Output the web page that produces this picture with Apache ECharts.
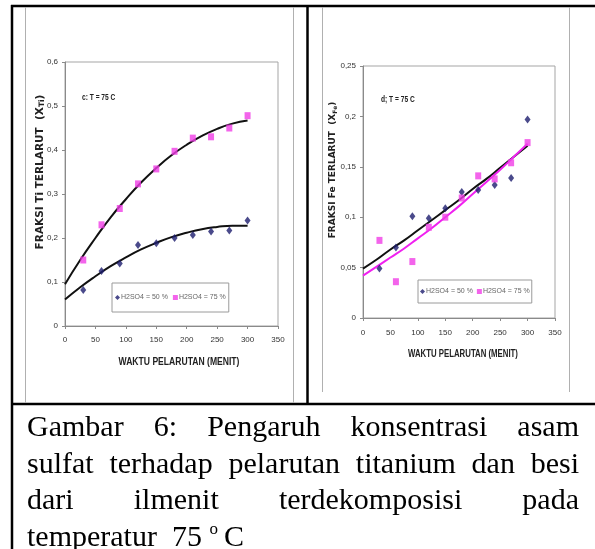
<!DOCTYPE html>
<html>
<head>
<meta charset="utf-8">
<script src="https://cdn.jsdelivr.net/npm/echarts@6/dist/echarts.min.js"></script>
<style>
  html, body { margin: 0; padding: 0; background: #fff; }
  #chart { position: absolute; left: 0; top: 0; width: 595px; height: 549px; }
  #caption { position: absolute; left: 27px; top: 408px; width: 552px;
    font-family: 'Liberation Serif', 'Times New Roman', serif; font-size: 30px; line-height: 36.5px; color: #000; }
  #caption div { text-align: justify; text-align-last: justify; white-space: nowrap; }
  #caption div.last { text-align: left; text-align-last: left; }
</style>
</head>
<body>
<div id="chart"></div>
<div id="caption">
  <div>Gambar 6: Pengaruh konsentrasi asam</div>
  <div>sulfat terhadap pelarutan titanium dan besi</div>
  <div>dari ilmenit terdekomposisi pada</div>
  <div class="last">temperatur&nbsp; 75 <sup style="font-size:17px;vertical-align:12px;line-height:0">o</sup>&#8201;C</div>
</div>
<script>
// ---- Data ----
const times = [30, 60, 90, 120, 150, 180, 210, 240, 270, 300];
const tiAcid50 = [0.082, 0.125, 0.142, 0.184, 0.188, 0.200, 0.207, 0.215, 0.217, 0.240];
const tiAcid75 = [0.150, 0.230, 0.267, 0.323, 0.357, 0.397, 0.427, 0.430, 0.450, 0.478];
const feAcid50 = [0.049, 0.070, 0.101, 0.099, 0.109, 0.125, 0.127, 0.132, 0.139, 0.197];
const feAcid75 = [0.077, 0.036, 0.056, 0.090, 0.100, 0.119, 0.141, 0.138, 0.154, 0.174];
// trendline curves
const trendX = [0, 25, 50, 75, 100, 125, 150, 175, 200, 225, 250, 275, 300];
const tiTrend50 = [0.060, 0.088, 0.113, 0.136, 0.156, 0.174, 0.189, 0.202, 0.212, 0.220, 0.225, 0.228, 0.228];
const tiTrend75 = [0.095, 0.150, 0.200, 0.247, 0.288, 0.326, 0.359, 0.388, 0.412, 0.432, 0.448, 0.460, 0.467];
const feTrend50 = [0.049, 0.058, 0.068, 0.077, 0.087, 0.097, 0.107, 0.117, 0.128, 0.138, 0.149, 0.160, 0.171];
const feTrend75 = [0.042, 0.051, 0.060, 0.069, 0.079, 0.089, 0.100, 0.111, 0.123, 0.135, 0.147, 0.160, 0.173];
const xTicks = { min: 0, max: 350, interval: 50 };
const tiTicks = { min: 0, max: 0.6, interval: 0.1 };
const feTicks = { min: 0, max: 0.25, interval: 0.05 };
const name50 = 'H2SO4 = 50 %';
const name75 = 'H2SO4 = 75 %';
const xTitle = 'WAKTU PELARUTAN (MENIT)';
const tiTitle = 'FRAKSI Ti TERLARUT  (X';
const feTitle = 'FRAKSI Fe TERLARUT  (X';

const pair = (xs, ys) => xs.map((x, i) => [x, ys[i]]);
const comma = v => { const r = Math.round(v * 100) / 100; return String(r).replace('.', ','); };

const NAVY = '#1d1d6e';
const PINK = '#f03de6';
const MAG = '#f020f0';
const sans = "'Liberation Sans', Arial, sans-serif";
const wide = "'DejaVu Sans', 'Liberation Sans', sans-serif";

function xAxisCfg(gridIndex, margin) {
  return {
    gridIndex, type: 'value', min: xTicks.min, max: xTicks.max, interval: xTicks.interval,
    axisLine: { show: true, lineStyle: { color: '#8a8a8a', width: 1 } },
    axisTick: { show: true, inside: false, length: 3, lineStyle: { color: '#8a8a8a' } },
    axisLabel: { fontFamily: sans, fontSize: 8, color: '#333', margin },
    splitLine: { show: false }
  };
}
function yAxisCfg(gridIndex, t) {
  return {
    gridIndex, type: 'value', min: t.min, max: t.max, interval: t.interval,
    axisLine: { show: true, lineStyle: { color: '#8a8a8a', width: 1 } },
    axisTick: { show: true, inside: false, length: 3, lineStyle: { color: '#8a8a8a' } },
    axisLabel: { fontFamily: sans, fontSize: 8, color: '#333', margin: 7, formatter: comma },
    splitLine: { show: false }
  };
}
function legendCfg(left, top, pad, gap) {
  return {
    left, top, orient: 'horizontal', padding: pad, itemGap: gap,
    itemWidth: 5, itemHeight: 5, borderColor: '#9a9a9a', borderWidth: 1,
    data: [{ name: name50, icon: 'diamond' }, { name: name75, icon: 'rect' }],
    textStyle: { fontFamily: sans, fontSize: 7, color: '#666', padding: [0, 0, 0, -4] },
    selectedMode: false
  };
}
function line(x1, y1, x2, y2, color, w) {
  return { type: 'line', shape: { x1, y1, x2, y2 }, style: { stroke: color, lineWidth: w }, silent: true };
}
function vtitle(x, y, main, sub, size) {
  return {
    type: 'text', x, y, rotation: Math.PI / 2,
    style: {
      text: '{m|' + main + '}{s|' + sub + '}{m|)}',
      rich: {
        m: { fontFamily: wide, fontWeight: 'bold', fontSize: size, fill: '#222' },
        s: { fontFamily: wide, fontWeight: 'bold', fontSize: size - 3, fill: '#222', verticalAlign: 'bottom', padding: [5, 0, 0, 0] }
      },
      align: 'center', verticalAlign: 'middle'
    }
  };
}
function ntext(x, y, text, size, sx, align) {
  return {
    type: 'text', x, y, scaleX: sx, scaleY: 1,
    style: { text, fontFamily: sans, fontWeight: 'bold', fontSize: size, fill: '#222', align: align || 'center', verticalAlign: 'middle' }
  };
}

const chart = echarts.init(document.getElementById('chart'), null, { renderer: 'canvas' });
chart.setOption({
  animation: false,
  backgroundColor: '#fff',
  grid: [
    { left: 65, top: 62, width: 213, height: 264, show: true, borderColor: '#a5a5a5', borderWidth: 1, backgroundColor: '#fff' },
    { left: 363, top: 66, width: 192, height: 252, show: true, borderColor: '#a5a5a5', borderWidth: 1, backgroundColor: '#fff' }
  ],
  xAxis: [xAxisCfg(0, 10), xAxisCfg(1, 11)],
  yAxis: [yAxisCfg(0, tiTicks), yAxisCfg(1, feTicks)],
  legend: [legendCfg(112, 283, [11, 3], 5), legendCfg(418, 280, [8, 2], 4)],
  series: [
    { name: 'trend Ti 50', type: 'line', xAxisIndex: 0, yAxisIndex: 0, data: pair(trendX, tiTrend50), smooth: true, symbol: 'none', lineStyle: { color: '#111', width: 2 }, z: 2 },
    { name: 'trend Ti 75', type: 'line', xAxisIndex: 0, yAxisIndex: 0, data: pair(trendX, tiTrend75), smooth: true, symbol: 'none', lineStyle: { color: '#111', width: 2 }, z: 2 },
    { name: name50, type: 'scatter', xAxisIndex: 0, yAxisIndex: 0, data: pair(times, tiAcid50), symbol: 'diamond', symbolSize: [6, 8], itemStyle: { color: NAVY }, z: 3 },
    { name: name75, type: 'scatter', xAxisIndex: 0, yAxisIndex: 0, data: pair(times, tiAcid75), symbol: 'rect', symbolSize: [6, 7], itemStyle: { color: PINK }, z: 3 },
    { name: 'trend Fe 50', type: 'line', xAxisIndex: 1, yAxisIndex: 1, data: pair(trendX, feTrend50), smooth: true, symbol: 'none', lineStyle: { color: '#111', width: 2 }, z: 2 },
    { name: 'trend Fe 75', type: 'line', xAxisIndex: 1, yAxisIndex: 1, data: pair(trendX, feTrend75), smooth: true, symbol: 'none', lineStyle: { color: MAG, width: 2 }, z: 2 },
    { name: name50, type: 'scatter', xAxisIndex: 1, yAxisIndex: 1, data: pair(times, feAcid50), symbol: 'diamond', symbolSize: [6, 8], itemStyle: { color: NAVY }, z: 3 },
    { name: name75, type: 'scatter', xAxisIndex: 1, yAxisIndex: 1, data: pair(times, feAcid75), symbol: 'rect', symbolSize: [6, 7], itemStyle: { color: PINK }, z: 3 }
  ],
  graphic: [
    // table frame
    line(11, 6, 595, 6, '#000', 2.5),
    line(12, 5, 12, 549, '#000', 2.5),
    line(307.5, 5, 307.5, 405, '#000', 2.5),
    line(11, 404, 595, 404, '#000', 2.5),
    // embedded picture frames
    line(25.5, 7, 25.5, 403, '#b0b0b0', 1),
    line(293.5, 7, 293.5, 403, '#b0b0b0', 1),
    line(322.5, 7, 322.5, 392, '#b0b0b0', 1),
    line(569.5, 7, 569.5, 392, '#b0b0b0', 1),
    // axis titles
    vtitle(40, 172, tiTitle, 'Ti', 10.5),
    vtitle(333, 170, feTitle, 'Fe', 9),
    ntext(179, 362, xTitle, 11, 0.78),
    ntext(463, 354, xTitle, 10, 0.78),
    // annotations
    ntext(82, 98, 'c: T = 75 C', 8.5, 0.78, 'left'),
    ntext(381, 100, 'd; T = 75 C', 8.5, 0.78, 'left')
  ]
});
</script>
</body>
</html>
